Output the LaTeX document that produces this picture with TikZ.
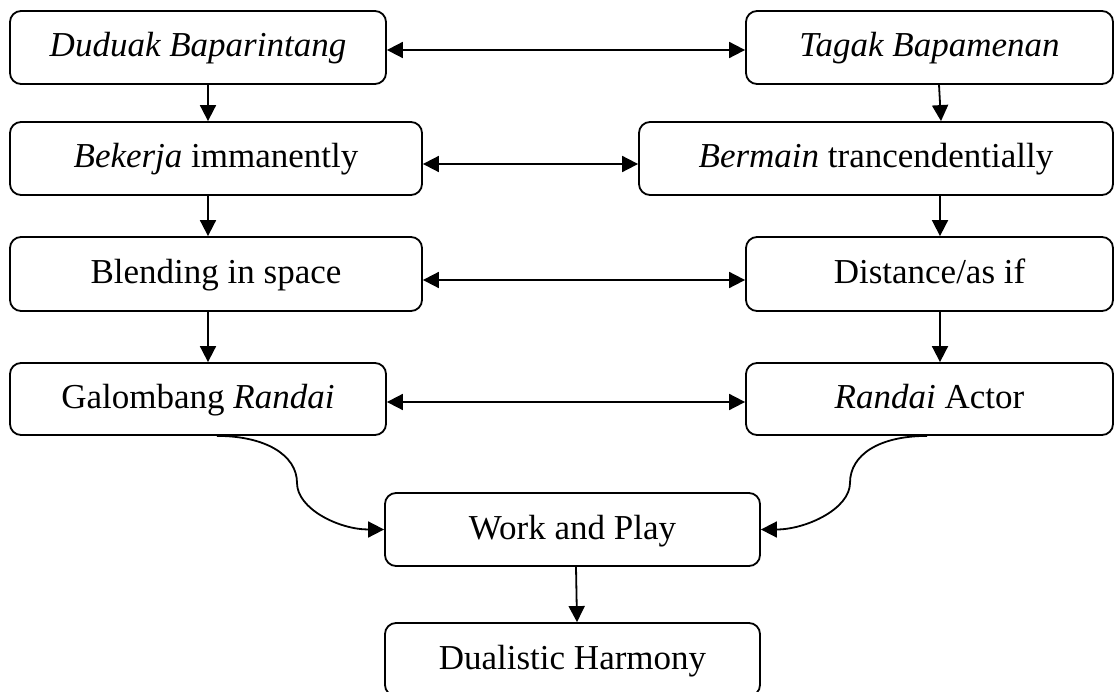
\documentclass[tikz,border=0pt]{standalone}
\usepackage{fontspec}
\setmainfont{Liberation Serif}
\usetikzlibrary{arrows.meta}
\begin{document}
\begin{tikzpicture}[x=1pt,y=-1pt,
  box/.style={draw, line width=1.8pt, rounded corners=11pt, inner sep=0pt,
    minimum height=73pt, text height=28pt, text depth=9pt,
    font=\fontsize{35}{40}\selectfont},
  link/.style={line width=1.8pt, -{Triangle[length=16pt,width=16pt]}},
  both/.style={line width=1.8pt, {Triangle[length=16pt,width=16pt]}-{Triangle[length=16pt,width=16pt]}}
]
\useasboundingbox (0,0) rectangle (1115,692);

% left column
\node[box, minimum width=376pt] (duduak) at (198,47.5) {\textit{Duduak Baparintang}};
\node[box, minimum width=412pt] (bekerja) at (216,158.5) {\textit{Bekerja} immanently};
\node[box, minimum width=412pt, minimum height=74pt] (blending) at (216,274) {Blending in space};
\node[box, minimum width=376pt, minimum height=72pt] (galombang) at (198,399) {Galombang \textit{Randai}};

% right column
\node[box, minimum width=367pt] (tagak) at (929.5,47.5) {\textit{Tagak Bapamenan}};
\node[box, minimum width=474pt] (bermain) at (876,158.5) {\textit{Bermain} trancendentially};
\node[box, minimum width=367pt, minimum height=74pt] (distance) at (929.5,274) {Distance/as if};
\node[box, minimum width=367pt, minimum height=72pt] (actor) at (929.5,399) {\textit{Randai} Actor};

% bottom
\node[box, minimum width=375pt] (work) at (572.5,529.5) {Work and Play};
\node[box, minimum width=375pt] (dual) at (572.5,659.5) {Dualistic Harmony};

% downward links
\draw[link] ([xshift=10pt]duduak.south) -- ([xshift=-8pt]bekerja.north);
\draw[link] ([xshift=-8pt]bekerja.south) -- ([xshift=-8pt]blending.north);
\draw[link] ([xshift=-8pt]blending.south) -- ([xshift=10pt]galombang.north);
\draw[link] ([xshift=9.5pt]tagak.south) -- ([xshift=65pt]bermain.north);
\draw[link] ([xshift=64pt]bermain.south) -- ([xshift=10.5pt]distance.north);
\draw[link] ([xshift=10.5pt]distance.south) -- ([xshift=10.5pt]actor.north);
\draw[link] ([xshift=3.5pt]work.south) -- ([xshift=4.5pt]dual.north);

% two-way links
\draw[both] ([yshift=-2.5pt]duduak.east) -- ([yshift=-2.5pt]tagak.west);
\draw[both] ([yshift=-5.5pt]bekerja.east) -- ([yshift=-5.5pt]bermain.west);
\draw[both] ([yshift=-6pt]blending.east) -- ([yshift=-6pt]distance.west);
\draw[both] ([yshift=-3pt]galombang.east) -- ([yshift=-3pt]actor.west);

% curved links into Work and Play
\draw[link] ([xshift=19pt]galombang.south) .. controls +(48,0) and +(0,-28) .. ++(80,47)
  .. controls +(0,26) and +(-45,0) .. (work.west);
\draw[link] ([xshift=-2.5pt]actor.south) .. controls +(-48,0) and +(0,-28) .. ++(-77,47)
  .. controls +(0,26) and +(45,0) .. (work.east);
\end{tikzpicture}
\end{document}
